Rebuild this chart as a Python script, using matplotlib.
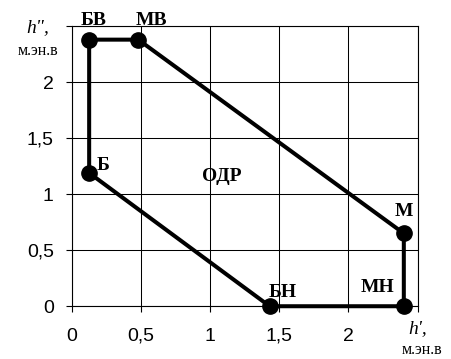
import matplotlib.pyplot as plt

# polygon vertices (h', h'') in order
names = ["БВ", "МВ", "М", "МН", "БН", "Б"]
hx = [0.125, 0.48, 2.40, 2.40, 1.43, 0.125]
hy = [2.38, 2.38, 0.65, 0.0, 0.0, 1.19]

xticks = [0, 0.5, 1, 1.5, 2, 2.5]
xlabels = ["0", "0,5", "1", "1,5", "2", ""]
yticks = [0, 0.5, 1, 1.5, 2, 2.5]
ylabels = ["0", "0,5", "1", "1,5", "2", ""]

fig = plt.figure(figsize=(4.52, 3.59), dpi=100)
ax = fig.add_axes([0.159, 0.147, 0.765, 0.78])

ax.plot(hx + hx[:1], hy + hy[:1], color="black", lw=2.9, solid_capstyle="round",
        zorder=3, clip_on=False)
ax.plot(hx, hy, "o", color="black", ms=11, zorder=4, clip_on=False)

ax.set_xlim(0, 2.5)
ax.set_ylim(0, 2.5)
ax.set_xticks(xticks)
ax.set_xticklabels(xlabels)
ax.set_yticks(yticks)
ax.set_yticklabels(ylabels)
ax.tick_params(labelsize=14, length=4.5, width=0.8, color="black",
               labelfontfamily="Liberation Sans")
ax.tick_params(axis="x", pad=11)
ax.tick_params(axis="y", pad=8.5)
ax.grid(True, color="black", lw=0.75)
for s in ax.spines.values():
    s.set_linewidth(0.8)

serif = "Liberation Serif"
lab = dict(family=serif, fontweight="bold", fontsize=14, color="black")
# label offsets in pixels (centre x, baseline) from each vertex
off = {"БВ": (4, 15), "МВ": (13.5, 15), "М": (0, 17), "МН": (-26, 14),
       "БН": (13, 9), "Б": (14, 3)}
for n, x, y in zip(names, hx, hy):
    dx, dy = off[n]
    ax.annotate(n, (x, y), xytext=(dx, dy), textcoords="offset pixels",
                ha="center", va="baseline", **lab)
ax.text(1.083, 1.116, "ОДР", ha="center", va="baseline", **lab)

fig.text(0.084, 0.911, "h\",", family=serif, style="italic", fontsize=14,
         ha="center", va="baseline")
fig.text(0.085, 0.847, "м.эн.в", family=serif, fontsize=11.5, ha="center",
         va="baseline")
fig.text(0.923, 0.072, "h',", family=serif, style="italic", fontsize=14,
         ha="center", va="baseline")
fig.text(0.934, 0.014, "м.эн.в", family=serif, fontsize=11.5, ha="center",
         va="baseline")

fig.savefig("out.png", dpi=100)
